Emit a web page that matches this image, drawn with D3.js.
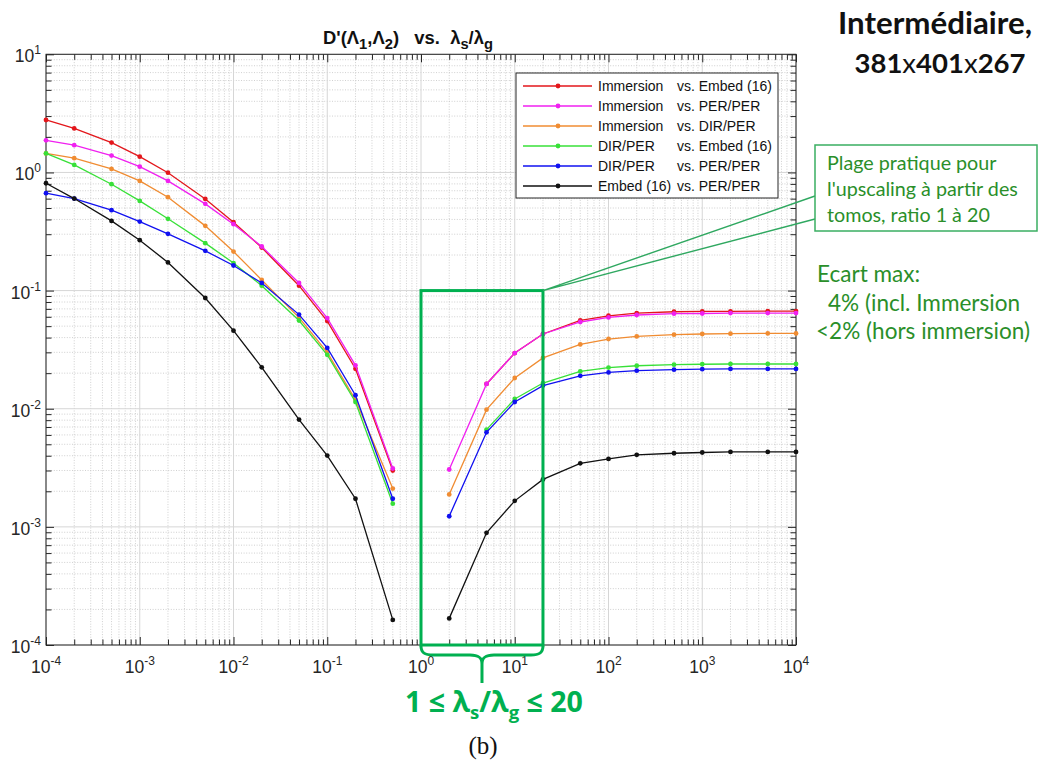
<!DOCTYPE html>
<html><head><meta charset="utf-8">
<script src="https://cdn.jsdelivr.net/npm/d3@7"></script>
<style>body{margin:0;background:#fff} svg{display:block}</style>
</head><body>
<svg id="c" width="1040" height="767"></svg>
<script>
// ---------- DATA ----------
// lambda_s / lambda_g (x = 1 has D' = 0, not plottable on log scale -> null)
const xValues = [1e-4, 2e-4, 5e-4, 1e-3, 2e-3, 5e-3, 0.01, 0.02, 0.05, 0.1, 0.2, 0.5,
                 1,
                 2, 5, 10, 20, 50, 100, 200, 500, 1000, 2000, 5000, 10000];
const seriesLeft  = ["Immersion", "Immersion", "Immersion", "DIR/PER", "DIR/PER", "Embed (16)"];
const seriesRight = ["vs. Embed (16)", "vs. PER/PER", "vs. DIR/PER", "vs. Embed (16)", "vs. PER/PER", "vs. PER/PER"];
const immersionVsEmbed = [2.78, 2.36, 1.79, 1.36, 0.995, 0.597, 0.379, 0.231, 0.110, 0.0552, 0.0218, 0.0030,
  null, null, 0.0162, 0.0296, 0.0429, 0.0559, 0.0612, 0.0645, 0.0662, 0.0666, 0.0666, 0.0671, 0.0671];
const immersionVsPer = [1.87, 1.70, 1.39, 1.12, 0.848, 0.542, 0.365, 0.236, 0.116, 0.0585, 0.0233, 0.00312,
  null, 0.00306, 0.0162, 0.0296, 0.0429, 0.0542, 0.0593, 0.0621, 0.0637, 0.0640, 0.0645, 0.0645, 0.0645];
const immersionVsDir = [1.45, 1.32, 1.07, 0.848, 0.617, 0.353, 0.214, 0.123, 0.059, 0.030, 0.0119, 0.00211,
  null, 0.00188, 0.00982, 0.0182, 0.0269, 0.0350, 0.0389, 0.0409, 0.0423, 0.0429, 0.0432, 0.0434, 0.0434];
const dirVsEmbed = [1.45, 1.157, 0.795, 0.574, 0.405, 0.252, 0.171, 0.110, 0.0558, 0.0286, 0.0114, 0.00157,
  null, null, 0.00666, 0.0121, 0.0165, 0.0207, 0.0223, 0.0231, 0.0236, 0.0238, 0.0239, 0.0239, 0.0239];
const dirVsPer = [0.667, 0.601, 0.479, 0.384, 0.302, 0.217, 0.163, 0.116, 0.0626, 0.0327, 0.0130, 0.00173,
  null, 0.00123, 0.00631, 0.0114, 0.0157, 0.0190, 0.0203, 0.0210, 0.0214, 0.0216, 0.0217, 0.0217, 0.0217];
const embedVsPer = [0.810, 0.601, 0.389, 0.267, 0.173, 0.0865, 0.0458, 0.0224, 0.00809, 0.00401, 0.00173, 0.000163,
  null, 0.000168, 0.000891, 0.00166, 0.00252, 0.00345, 0.00376, 0.00407, 0.00420, 0.00426, 0.00431, 0.00431, 0.00431];
const xTickExponents = [-4, -3, -2, -1, 0, 1, 2, 3, 4];
const yTickExponents = [-4, -3, -2, -1, 0, 1];
const rangeLow = 1, rangeHigh = 20, rangeTop = 0.1;
// ---------- STYLE ----------
const seriesColors = ["#e3161b", "#f020f0", "#f08c32", "#38e038", "#1010f0", "#111111"];
const allSeries = [immersionVsEmbed, immersionVsPer, immersionVsDir, dirVsEmbed, dirVsPer, embedVsPer];
const GREEN = "#00b050", TXTGREEN = "#2a8f2a";
const AXFONT = "'Liberation Sans', Arial, sans-serif";
const CAL = "Lato, 'Open Sans', sans-serif";

const svg = d3.select("#c");
const L = 46, R = 796, T = 54.3, B = 645;
const x = d3.scaleLog().domain([1e-4, 1e4]).range([L, R]);
const y = d3.scaleLog().domain([1e-4, 1e1]).range([B, T]);

const majX = xTickExponents.map(e => Math.pow(10, e));
const majY = yTickExponents.map(e => Math.pow(10, e));
const minor = (exps) => { const a = []; for (let i = 0; i < exps.length - 1; i++) for (let k = 2; k <= 9; k++) a.push(k * Math.pow(10, exps[i])); return a; };
const minX = minor(xTickExponents), minY = minor(yTickExponents);

// grid
const g = svg.append("g");
g.selectAll(".gmx").data(minX).join("line").attr("x1", d => x(d)).attr("x2", d => x(d)).attr("y1", T).attr("y2", B)
  .attr("stroke", "#c4c4c4").attr("stroke-width", 0.8).attr("stroke-dasharray", "1,1.6");
g.selectAll(".gmy").data(minY).join("line").attr("y1", d => y(d)).attr("y2", d => y(d)).attr("x1", L).attr("x2", R)
  .attr("stroke", "#c4c4c4").attr("stroke-width", 0.8).attr("stroke-dasharray", "1,1.6");
g.selectAll(".gMx").data(majX).join("line").attr("x1", d => x(d)).attr("x2", d => x(d)).attr("y1", T).attr("y2", B)
  .attr("stroke", "#d6d6d6").attr("stroke-width", 1);
g.selectAll(".gMy").data(majY).join("line").attr("y1", d => y(d)).attr("y2", d => y(d)).attr("x1", L).attr("x2", R)
  .attr("stroke", "#d6d6d6").attr("stroke-width", 1);

// axes (ticks inward on all four sides)
function ax(gen, tx, ty, vals, size) {
  const a = svg.append("g").attr("transform", `translate(${tx},${ty})`)
    .call(gen.tickValues(vals).tickSize(size).tickSizeOuter(0).tickFormat(""));
  a.select(".domain").remove();
  a.selectAll("line").attr("stroke", "#262626").attr("stroke-width", 1);
}
[[majX, 8], [minX, 5.5]].forEach(([v, s]) => {
  ax(d3.axisBottom(x), 0, B, v, -s);
  ax(d3.axisTop(x), 0, T, v, -s);
});
[[majY, 8], [minY, 5.5]].forEach(([v, s]) => {
  ax(d3.axisLeft(y), L, 0, v, -s);
  ax(d3.axisRight(y), R, 0, v, -s);
});
svg.append("rect").attr("x", L).attr("y", T).attr("width", R - L).attr("height", B - T)
  .attr("fill", "none").attr("stroke", "#262626").attr("stroke-width", 1);

// tick labels
function powLabel(sel, e) {
  sel.append("tspan").text("10");
  sel.append("tspan").attr("font-size", 12).attr("dy", -8).text(e < 0 ? "-" + (-e) : String(e));
}
xTickExponents.forEach(e => {
  const t = svg.append("text").attr("x", x(Math.pow(10, e))).attr("y", 673).attr("text-anchor", "middle")
    .attr("font-family", AXFONT).attr("font-size", 17.5).attr("fill", "#262626");
  powLabel(t, e);
});
yTickExponents.forEach(e => {
  const t = svg.append("text").attr("x", 41).attr("y", y(Math.pow(10, e)) + 8).attr("text-anchor", "end")
    .attr("font-family", AXFONT).attr("font-size", 17.5).attr("fill", "#262626");
  powLabel(t, e);
});

function fit(sel, w) {
  const l = sel.node().getComputedTextLength();
  sel.attr("font-size", parseFloat(sel.attr("font-size")) * w / l);
}

// title
const title = svg.append("text").attr("x", 408).attr("y", 44).attr("text-anchor", "middle")
  .attr("font-family", AXFONT).attr("font-size", 16).attr("font-weight", "bold").attr("fill", "#111");
const titleParts = [["D'(Λ", 0], ["1", 1], [",Λ", -1], ["2", 1], [")\u00a0\u00a0\u00a0vs.\u00a0\u00a0λ", -1], ["s", 1], ["/λ", -1], ["g", 1]];
titleParts.forEach(([s, k]) => {
  const ts = title.append("tspan").attr("dy", k * 5).text(s);
  if (k === 1) ts.attr("font-size", "0.8em");
});
fit(title, 170);

// series
const line = d3.line().defined(d => d[1] != null).x(d => x(d[0])).y(d => y(d[1]));
allSeries.forEach((vals, i) => {
  const pts = xValues.map((xv, j) => [xv, vals[j]]);
  svg.append("path").datum(pts).attr("d", line).attr("fill", "none")
    .attr("stroke", seriesColors[i]).attr("stroke-width", 1.3);
  svg.append("g").selectAll("circle").data(pts.filter(p => p[1] != null)).join("circle")
    .attr("cx", d => x(d[0])).attr("cy", d => y(d[1])).attr("r", 2.4).attr("fill", seriesColors[i]);
});

// legend
const lg = svg.append("g");
lg.append("rect").attr("x", 516).attr("y", 73).attr("width", 262).attr("height", 125)
  .attr("fill", "#fff").attr("stroke", "#262626").attr("stroke-width", 1);
seriesLeft.forEach((nm, i) => {
  const ry = 86 + i * 20;
  lg.append("line").attr("x1", 523).attr("x2", 592).attr("y1", ry).attr("y2", ry).attr("stroke", seriesColors[i]).attr("stroke-width", 1.3);
  lg.append("circle").attr("cx", 558).attr("cy", ry).attr("r", 2.4).attr("fill", seriesColors[i]);
  lg.append("text").attr("x", 598).attr("y", ry + 5).attr("font-family", AXFONT).attr("font-size", 14).attr("fill", "#111").text(nm);
  lg.append("text").attr("x", 677).attr("y", ry + 5).attr("font-family", AXFONT).attr("font-size", 14).attr("fill", "#111").text(seriesRight[i]);
});

// green practical-range box
const bx0 = x(rangeLow), bx1 = x(rangeHigh), by0 = y(rangeTop);
svg.append("rect").attr("x", bx0).attr("y", by0).attr("width", bx1 - bx0).attr("height", B - by0)
  .attr("fill", "none").attr("stroke", GREEN).attr("stroke-width", 3);
// brace
const bm = (bx0 + bx1) / 2;
svg.append("path").attr("d",
  `M${bx0},${B + 1} C${bx0},${B + 8} ${bx0 + 4},${B + 10} ${bx0 + 12},${B + 10} L${bm - 12},${B + 10} C${bm - 4},${B + 10} ${bm},${B + 12} ${bm},${B + 19} L${bm},${B + 38}
   M${bm},${B + 19} C${bm},${B + 12} ${bm + 4},${B + 10} ${bm + 12},${B + 10} L${bx1 - 12},${B + 10} C${bx1 - 4},${B + 10} ${bx1},${B + 8} ${bx1},${B + 1}`)
  .attr("fill", "none").attr("stroke", GREEN).attr("stroke-width", 3);

const rl = svg.append("text").attr("x", 405).attr("y", 712).attr("font-family", "'Open Sans', sans-serif")
  .attr("font-weight", "bold").attr("font-size", 25).attr("fill", GREEN);
rl.append("tspan").text("1 ≤ λ");
rl.append("tspan").attr("dy", 7).attr("font-size", "0.65em").text("s");
rl.append("tspan").attr("dy", -7).text("/λ");
rl.append("tspan").attr("dy", 7).attr("font-size", "0.65em").text("g");
rl.append("tspan").attr("dy", -7).text(" ≤ 20");
fit(rl, 178);

svg.append("text").attr("x", 483).attr("y", 754).attr("text-anchor", "middle")
  .attr("font-family", "'Liberation Serif', 'DejaVu Serif', serif").attr("font-size", 25).attr("fill", "#111").text("(b)");

// callout
svg.append("path").attr("d", `M${bx1},${by0} L815,196 M${bx1},${by0} L815,219`)
  .attr("stroke", "#2fa860").attr("stroke-width", 1.4).attr("fill", "none");
svg.append("rect").attr("x", 815).attr("y", 145).attr("width", 222).attr("height", 86)
  .attr("fill", "#fff").attr("stroke", "#3aae62").attr("stroke-width", 1.5);
const callLines = ["Plage pratique pour", "l'upscaling à partir des", "tomos, ratio 1 à 20"];
const cl = callLines.map((s, i) => svg.append("text").attr("x", 827).attr("y", 170 + i * 26)
  .attr("font-family", CAL).attr("font-size", 19).attr("fill", TXTGREEN).text(s));
const f1 = 19 * 191 / cl[1].node().getComputedTextLength();
cl.forEach(t => t.attr("font-size", f1));

// ecart
const ecLines = [["Ecart max:", 817], ["4% (incl. Immersion", 828], ["<2% (hors immersion)", 816]];
const ec = ecLines.map((s, i) => svg.append("text").attr("x", s[1]).attr("y", 282 + i * 28.5)
  .attr("font-family", CAL).attr("font-size", 21).attr("fill", TXTGREEN).text(s[0]));
const f2 = 21 * 214 / ec[2].node().getComputedTextLength();
ec.forEach(t => t.attr("font-size", f2));

// heading
const h1 = svg.append("text").attr("x", 935).attr("y", 34).attr("text-anchor", "middle")
  .attr("font-family", CAL).attr("font-weight", "bold").attr("font-size", 25).attr("fill", "#111").text("Intermédiaire,");
fit(h1, 194);
const h2 = svg.append("text").attr("x", 940).attr("y", 73).attr("text-anchor", "middle")
  .attr("font-family", CAL).attr("font-weight", "bold").attr("font-size", 25).attr("fill", "#111");
["381", "x", "401", "x", "267"].forEach((s, i) => h2.append("tspan").attr("font-weight", i % 2 ? "normal" : "bold").text(s));
fit(h2, 171);
</script>
</body></html>
